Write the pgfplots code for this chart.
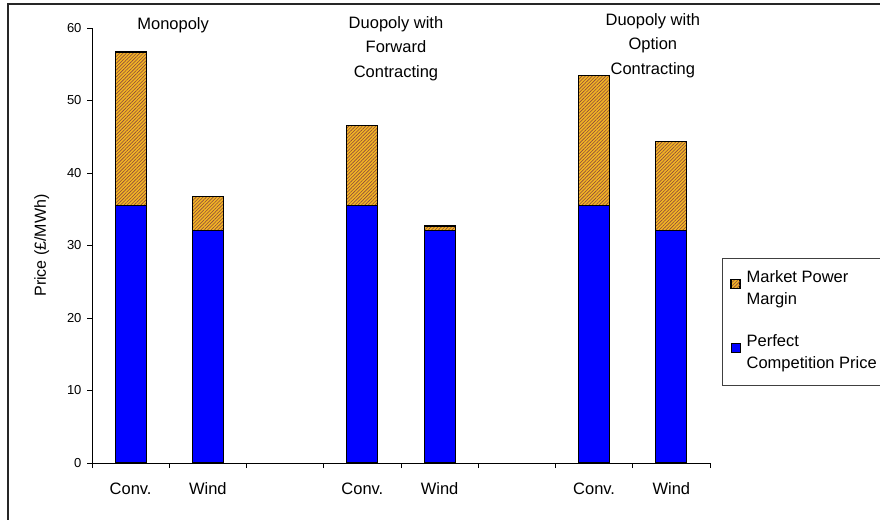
\documentclass[border=0pt]{standalone}
\usepackage{pgfplots}
\pgfplotsset{compat=1.18}
\usepackage{fontspec}
\setmainfont{Liberation Sans}
\usetikzlibrary{patterns.meta}

\definecolor{perfblue}{RGB}{0,0,255}
\definecolor{marginorange}{RGB}{242,180,36}
\definecolor{hatchbrown}{RGB}{140,75,60}

\begin{document}
\begin{tikzpicture}[x=1pt,y=1pt]
\useasboundingbox (0,0) rectangle (880,519);
% outer chart frame
\begin{scope}
  \clip (0,0) rectangle (880,519);
  \draw[line width=1.6pt, black!85] (8,515) rectangle (900,-20);
\end{scope}
\begin{axis}[
  at={(92pt,56pt)}, anchor=south west,
  width=618pt, height=435pt, scale only axis,
  xmin=-0.5, xmax=7.5, ymin=0, ymax=60,
  ybar stacked, bar width=31pt,
  axis x line*=bottom, axis y line*=left,
  axis line style={-, black, line width=0.9pt},
  tick align=outside, major tick length=5pt,
  tick style={black, line width=0.9pt},
  xtick={-0.5,0.5,...,7.5}, xticklabels={},
  extra x ticks={0,1,3,4,6,7},
  extra x tick labels={Conv.,Wind,Conv.,Wind,Conv.,Wind},
  extra x tick style={major tick length=0pt,
    tick label style={font=\fontsize{16.5}{20}\selectfont, yshift=-16pt}},
  ytick={0,10,...,60},
  yticklabel style={font=\fontsize{13}{15}\selectfont, xshift=-2pt},
  /pgf/number format/assume math mode=true,
  ylabel={Price (£/MWh)},
  ylabel style={at={(axis description cs:-0.0814,0.5)}, anchor=center,
    font=\fontsize{16}{19}\selectfont},
  clip=false,
  reverse legend,
  legend style={at={(1.0194,0.4713)}, anchor=north west,
    draw=black!75, line width=0.9pt,
    font=\fontsize{16.5}{22}\selectfont,
    cells={align=left, anchor=west},
    inner xsep=8pt, inner ysep=10pt,
    row sep=21pt},
]
% perfect competition price (bottom of each stack)
\addplot[fill=perfblue, draw=black, line width=1.2pt,
  legend image code/.code={%
    \draw[fill=perfblue, draw=black, line width=0.8pt] (0pt,0pt) rectangle (9pt,9pt);
    \path (0pt,-22.5pt) (13pt,0pt);}]
  coordinates {(0,35.5) (1,32.1) (3,35.5) (4,32.1) (6,35.5) (7,32.1)};
\addlegendentry{Perfect\\Competition Price}
% market power margin (hatched, on top)
\addplot[preaction={fill=marginorange},
  pattern={Lines[angle=45,distance=2.4pt,line width=0.6pt]}, pattern color=hatchbrown,
  draw=black, line width=1.2pt,
  legend image code/.code={%
    \draw[preaction={fill=marginorange},
      pattern={Lines[angle=45,distance=2.4pt,line width=0.6pt]}, pattern color=hatchbrown,
      draw=black, line width=0.8pt] (0pt,0pt) rectangle (9pt,9pt);
    \path (0pt,-22.5pt) (13pt,0pt);}]
  coordinates {(0,21.2) (1,4.7) (3,11.0) (4,0.6) (6,17.9) (7,12.2)};
\addlegendentry{Market Power\\Margin}

% group titles
\node[anchor=north, inner sep=0pt, align=center, font=\fontsize{16.5}{24.5}\selectfont]
  at (axis cs:0.55,61.47) {Monopoly};
\node[anchor=north, inner sep=0pt, align=center, font=\fontsize{16.5}{24.5}\selectfont]
  at (axis cs:3.435,61.66) {Duopoly with\\Forward\\Contracting};
\node[anchor=north, inner sep=0pt, align=center, font=\fontsize{16.5}{24.5}\selectfont]
  at (axis cs:6.76,62.03) {Duopoly with\\Option\\Contracting};
\end{axis}
\end{tikzpicture}
\end{document}
